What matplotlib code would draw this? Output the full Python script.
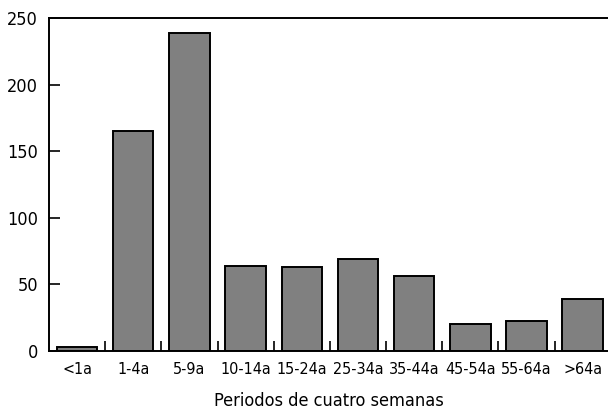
import matplotlib
matplotlib.use("Agg")
import matplotlib.pyplot as plt
from matplotlib import font_manager
import numpy as np

# grupos de edad y casos
categorias = ["<1a", "1-4a", "5-9a", "10-14a", "15-24a", "25-34a",
              "35-44a", "45-54a", "55-64a", ">64a"]
casos = [3, 165, 239, 64, 63, 69, 56, 20, 22, 39]

nombres = {f.name for f in font_manager.fontManager.ttflist}
if 'Liberation Sans Narrow' in nombres:
    plt.rcParams['font.family'] = ['Liberation Sans Narrow', 'DejaVu Sans']
else:
    plt.rcParams['font.family'] = ['DejaVu Sans']
    plt.rcParams['font.stretch'] = 'condensed'

fig = plt.figure(figsize=(6.08, 4.15), dpi=100)
ax = fig.add_axes([49/608, 1-350.7/415, 1-49/608, (350.7-18.3)/415])

x = np.arange(len(categorias))
ax.bar(x, casos, width=0.72, color="#808080", edgecolor="black", linewidth=1.4)

ax.set_xlim(-0.5, 9.45)
ax.set_ylim(0, 250)
ax.set_yticks(np.arange(0, 251, 50))
ax.tick_params(axis="y", direction="in", length=8, width=1.2, labelsize=13, pad=8)

# etiquetas en el centro, marcas entre barras
ax.set_xticks(x)
ax.set_xticklabels(categorias)
ax.set_xticks(np.arange(0.5, 9, 1), minor=True)
ax.tick_params(axis="x", which="major", length=0, labelsize=11.5, pad=8)
ax.tick_params(axis="x", which="minor", direction="in", length=7, width=1.2)

for s in ["left", "top", "bottom"]:
    ax.spines[s].set_linewidth(1.4)
ax.spines["right"].set_visible(False)

ax.set_xlabel("Periodos de cuatro semanas", fontsize=13, labelpad=11)

fig.savefig("out.png", dpi=100)
